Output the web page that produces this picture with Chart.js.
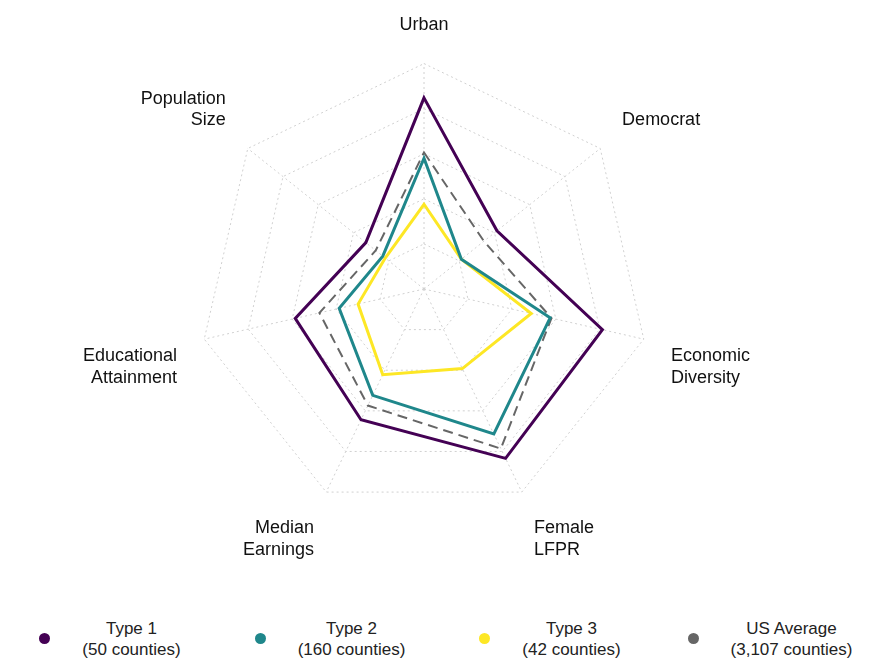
<!DOCTYPE html>
<html>
<head>
<meta charset="utf-8">
<script src="https://cdn.jsdelivr.net/npm/chart.js@4"></script>
<style>
body { margin: 0; background: #fff; font-family: "Liberation Sans", Arial, sans-serif; }
#wrap { position: relative; width: 880px; height: 610px; }
#legend { display: flex; width: 880px; height: 57px; }
.item { flex: 1; display: flex; align-items: center; justify-content: center; font-size: 17px; color: #222; }
.dot { width: 11px; height: 11px; border-radius: 50%; margin-right: 32px; }
.txt { text-align: center; line-height: 21px; }
</style>
</head>
<body>
<div id="wrap"><canvas id="myChart" width="880" height="610"></canvas></div>
<div id="legend"></div>
<script>
var labels = ['Urban', 'Democrat', ['Economic', 'Diversity'], ['Female', 'LFPR'], ['Median', 'Earnings'], ['Educational', 'Attainment'], ['Population', 'Size']];
var type1 = [4.24, 2.07, 4.06, 4.17, 3.22, 2.93, 1.65];
var type2 = [2.90, 1.06, 2.87, 3.57, 2.62, 1.93, 1.17];
var type3 = [1.88, 1.06, 2.44, 1.96, 2.11, 1.50, 1.10];
var usAvg = [3.03, 1.70, 2.90, 3.93, 2.87, 2.38, 1.37];
var seriesNames = ['Type 1', 'Type 2', 'Type 3', 'US Average'];
var seriesCounts = ['(50 counties)', '(160 counties)', '(42 counties)', '(3,107 counties)'];
var colors = ['#440154', '#1f878b', '#fde725', '#666666'];

var ctx = document.getElementById('myChart').getContext('2d');
var chart = new Chart(ctx, {
    type: 'radar',
    data: {
        labels: labels,
        datasets: [
            { label: seriesNames[0], data: type1, borderColor: colors[0], borderWidth: 3 },
            { label: seriesNames[1], data: type2, borderColor: colors[1], borderWidth: 3 },
            { label: seriesNames[2], data: type3, borderColor: colors[2], borderWidth: 3 },
            { label: seriesNames[3], data: usAvg, borderColor: colors[3], borderWidth: 2, borderDash: [10, 6] }
        ]
    },
    options: {
        responsive: false,
        animation: false,
        layout: { padding: { top: 12, bottom: 47, left: 0, right: 32 } },
        elements: { point: { radius: 0 }, line: { fill: false, tension: 0, borderJoinStyle: 'miter' } },
        plugins: { legend: { display: false }, tooltip: { enabled: false } },
        scales: {
            r: {
                min: 0, max: 5,
                ticks: { display: false, stepSize: 1 },
                grid: { color: '#d0d0d0', lineWidth: 1 },
                border: { dash: [2, 3] },
                angleLines: { color: '#d0d0d0', borderDash: [2, 3], lineWidth: 1 },
                pointLabels: { color: '#111', font: { family: 'Liberation Sans', size: 18 }, padding: 28 }
            }
        }
    }
});

var legend = document.getElementById('legend');
seriesNames.forEach(function(name, i) {
    var d = document.createElement('div');
    d.className = 'item';
    d.innerHTML = '<span class="dot" style="background:' + colors[i] + '"></span><span class="txt">' + name + '<br>' + seriesCounts[i] + '</span>';
    legend.appendChild(d);
});
</script>
</body>
</html>
